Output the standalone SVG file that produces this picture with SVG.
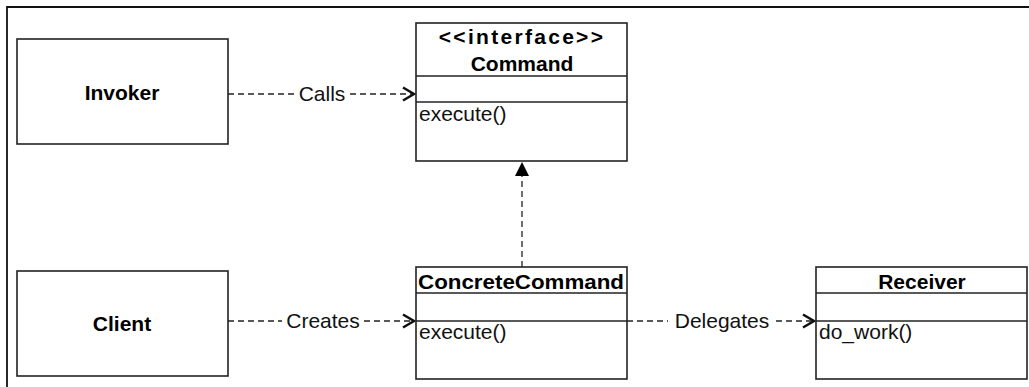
<svg xmlns="http://www.w3.org/2000/svg" width="1029" height="387" viewBox="0 0 1029 387">
<defs>
<style>
.box{fill:#fff;stroke:#222;stroke-width:1.6}
.div{stroke:#222;stroke-width:1.6}
.frame{stroke:#111;stroke-width:1.8;fill:none}
.dash{stroke:#222;stroke-width:1.3;stroke-dasharray:6,4;fill:none}
.b{font-family:"Liberation Sans",Arial,sans-serif;font-weight:bold;font-size:21px;fill:#000}
.t{font-family:"Liberation Sans",Arial,sans-serif;font-size:21px;fill:#111}
</style>
<marker id="open" markerWidth="14" markerHeight="18" refX="12" refY="8" orient="auto" markerUnits="userSpaceOnUse">
<path d="M1,1.5 L12,8 L1,14.5" fill="none" stroke="#111" stroke-width="2.6"/>
</marker>
</defs>
<rect width="1029" height="387" fill="#fff"/>
<path class="frame" d="M7,387 L7,7 L1029,7"/>

<g id="connectors">
<line class="dash" x1="228" y1="94" x2="294" y2="94"/>
<line class="dash" x1="350" y1="94" x2="414" y2="94" marker-end="url(#open)"/>
<text class="t" x="322" y="101" text-anchor="middle">Calls</text>
<line class="dash" x1="228" y1="321" x2="282" y2="321"/>
<line class="dash" x1="364" y1="321" x2="414" y2="321" marker-end="url(#open)"/>
<text class="t" x="323" y="328" text-anchor="middle">Creates</text>
<line class="dash" x1="627" y1="321" x2="668" y2="321"/>
<line class="dash" x1="776" y1="321" x2="814" y2="321" marker-end="url(#open)"/>
<text class="t" x="722" y="328" text-anchor="middle">Delegates</text>
<line class="dash" x1="522" y1="267" x2="522" y2="175"/>
<path d="M515,176 L522,162 L529,176 Z" fill="#000"/>
</g>

<g id="invoker">
<rect class="box" x="17" y="39" width="211" height="105"/>
<text class="b" x="122" y="100" text-anchor="middle">Invoker</text>
</g>

<g id="command">
<rect class="box" x="416" y="23" width="211" height="138"/>
<line class="div" x1="416" y1="76" x2="627" y2="76"/>
<line class="div" x1="416" y1="102" x2="627" y2="102"/>
<text class="b" x="522" y="44" text-anchor="middle" letter-spacing="2.3">&lt;&lt;interface&gt;&gt;</text>
<text class="b" x="522" y="71" text-anchor="middle">Command</text>
<text class="t" x="419" y="121">execute()</text>
</g>

<g id="client">
<rect class="box" x="17" y="271" width="211" height="105"/>
<text class="b" x="122" y="331" text-anchor="middle">Client</text>
</g>

<g id="concretecommand">
<rect class="box" x="416" y="267" width="211" height="112"/>
<line class="div" x1="416" y1="293" x2="627" y2="293"/>
<line class="div" x1="416" y1="321" x2="627" y2="321"/>
<text class="b" x="521" y="289" text-anchor="middle" textLength="206" lengthAdjust="spacingAndGlyphs">ConcreteCommand</text>
<text class="t" x="419" y="339">execute()</text>
</g>

<g id="receiver">
<rect class="box" x="816" y="267" width="211" height="112"/>
<line class="div" x1="816" y1="293" x2="1027" y2="293"/>
<line class="div" x1="816" y1="321" x2="1027" y2="321"/>
<text class="b" x="922" y="289" text-anchor="middle">Receiver</text>
<text class="t" x="819" y="339">do_work()</text>
</g>
</svg>
